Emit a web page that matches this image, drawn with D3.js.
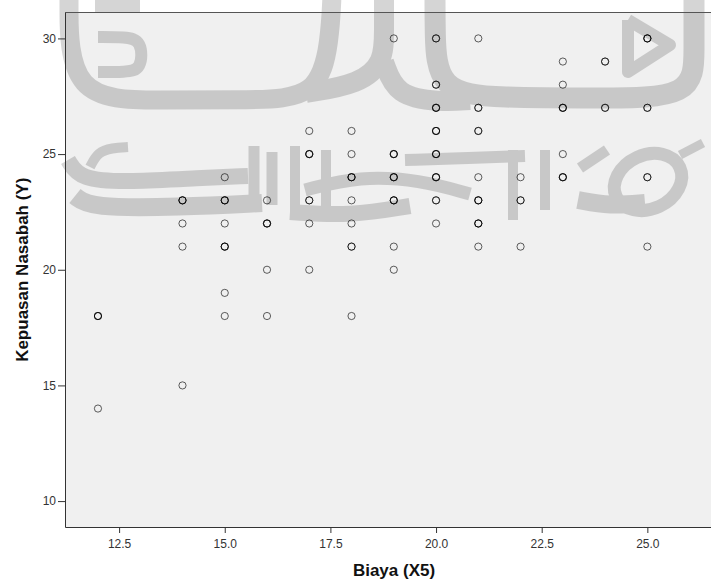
<!DOCTYPE html>
<html>
<head>
<meta charset="utf-8">
<script src="https://cdn.jsdelivr.net/npm/d3@7"></script>
<style>
  html, body { margin: 0; padding: 0; background: #fff; }
  #chart { width: 711px; height: 583px; overflow: hidden; }
  text { font-family: "Liberation Sans", Arial, sans-serif; }
</style>
</head>
<body>
<div id="chart"></div>
<script>
// Scatter Biaya (X5) vs Kepuasan Nasabah (Y)
// jumlah = how many cases sit on the same spot (darker rings in the original)
const biaya = [
    12, 12,
    14, 14, 14, 14,
    15, 15, 15, 15, 15, 15,
    16, 16, 16, 16,
    17, 17, 17, 17, 17,
    18, 18, 18, 18, 18, 18, 18,
    19, 19, 19, 19, 19, 19,
    20, 20, 20, 20, 20, 20, 20, 20,
    21, 21, 21, 21, 21, 21, 21,
    22, 22, 22,
    23, 23, 23, 23, 23,
    24, 24,
    25, 25, 25, 25
];
const kepuasan = [
    18, 14,
    23, 22, 21, 15,
    24, 23, 22, 21, 19, 18,
    23, 22, 20, 18,
    26, 25, 23, 22, 20,
    26, 25, 24, 23, 22, 21, 18,
    30, 25, 24, 23, 21, 20,
    30, 28, 27, 26, 25, 24, 23, 22,
    30, 27, 26, 24, 23, 22, 21,
    24, 23, 21,
    29, 28, 27, 25, 24,
    29, 27,
    30, 27, 24, 21
];
const jumlah = [
    3, 1,
    3, 1, 1, 1,
    1, 3, 1, 3, 1, 1,
    1, 3, 1, 1,
    1, 3, 2, 1, 1,
    1, 1, 3, 1, 1, 2, 1,
    1, 3, 3, 3, 1, 1,
    2, 2, 3, 3, 3, 3, 2, 1,
    1, 2, 2, 1, 3, 3, 1,
    1, 2, 1,
    1, 1, 3, 1, 3,
    2, 2,
    3, 2, 2, 1
];
const xTicks = [12.5, 15.0, 17.5, 20.0, 22.5, 25.0];
const yTicks = [10, 15, 20, 25, 30];
const xTitle = 'Biaya (X5)';
const yTitle = 'Kepuasan Nasabah (Y)';

// faint logo watermark behind the plot (page pixels, smoothed with curveBasis)
const watermark = [
    { w: 19, pts: [[69, -5], [69, 100], [160, 100], [250, 100], [318, 98], [330, 40], [332, -5]] },
    { w: 13, pts: [[95, 6], [140, 6]] },
    { w: 12, pts: [[98, 37], [125, 37], [142, 40], [142, 70], [125, 72], [98, 72]] },
    { w: 20, pts: [[384, -5], [384, 30], [384, 62], [360, 84], [306, 93]] },
    { w: 20, pts: [[384, 62], [396, 96], [440, 102], [470, 100]] },
    { w: 21, pts: [[435, -5], [435, 30], [437, 92], [500, 98], [600, 98], [694, 98], [694, 50], [694, -5]] },
    { w: 12, pts: [[628, 20], [670, 45], [628, 72], [628, 20]], straight: true },
    { w: 10, pts: [[90, 167], [98, 152], [112, 148], [128, 147]] },
    { w: 16, pts: [[68, 160], [80, 180], [130, 182], [200, 178], [248, 176]] },
    { w: 18, pts: [[75, 196], [90, 208], [180, 207], [262, 203]] },
    { w: 11, pts: [[254, 146], [254, 205]], straight: true },
    { w: 11, pts: [[272, 152], [272, 205]], straight: true },
    { w: 10, pts: [[295, 146], [295, 212]], straight: true },
    { w: 10, pts: [[326, 150], [326, 212]], straight: true },
    { w: 16, pts: [[290, 212], [350, 216], [410, 206]] },
    { w: 13, pts: [[305, 190], [360, 176], [420, 180], [470, 194]] },
    { w: 12, pts: [[405, 160], [470, 158], [525, 156]] },
    { w: 10, pts: [[513, 150], [513, 220]], straight: true },
    { w: 10, pts: [[545, 150], [545, 210]], straight: true },
    { w: 11, pts: [[580, 168], [607, 150]], straight: true },
    { w: 18, pts: [[578, 200], [610, 206], [645, 203]] },
    { w: 9, pts: [[680, 155], [703, 143]], straight: true }
];

const W = 711, H = 583;
const plot = { left: 65, right: 723, top: 12.5, bottom: 527 };

const x = d3.scaleLinear().domain([11.22, 26.79]).range([plot.left, plot.right]);
const y = d3.scaleLinear().domain([8.88, 31.12]).range([plot.bottom, plot.top]);

const svg = d3.select('#chart')
    .append('svg')
    .attr('width', W)
    .attr('height', H);

svg.append('rect')
    .attr('x', plot.left).attr('y', plot.top)
    .attr('width', plot.right - plot.left).attr('height', plot.bottom - plot.top)
    .attr('fill', '#f0f0f0');

// watermark
const wm = svg.append('g').attr('opacity', 0.16);
const straightLine = d3.line();
const smoothLine = d3.line().curve(d3.curveBasis);
watermark.forEach(s => {
    wm.append('path')
        .attr('d', (s.straight ? straightLine : smoothLine)(s.pts))
        .attr('fill', 'none')
        .attr('stroke', '#000')
        .attr('stroke-width', s.w)
        .attr('stroke-linejoin', 'round');
});
wm.append('ellipse')
    .attr('cx', 648).attr('cy', 182).attr('rx', 35).attr('ry', 27)
    .attr('transform', 'rotate(-25,648,182)')
    .attr('fill', 'none').attr('stroke', '#000').attr('stroke-width', 13);

// points, stacked rings for overlapping cases
const pts = [];
biaya.forEach((b, i) => {
    for (let k = 0; k < jumlah[i]; k++) pts.push([b, kepuasan[i]]);
});
svg.append('g')
    .selectAll('circle')
    .data(pts)
    .join('circle')
    .attr('cx', d => x(d[0]))
    .attr('cy', d => y(d[1]))
    .attr('r', 3.6)
    .attr('fill', 'none')
    .attr('stroke', '#000')
    .attr('stroke-opacity', 0.62)
    .attr('stroke-width', 1);

// frame top line
svg.append('line')
    .attr('x1', plot.left).attr('x2', plot.right)
    .attr('y1', plot.top).attr('y2', plot.top)
    .attr('stroke', '#555').attr('stroke-width', 1);

const yAxis = svg.append('g')
    .attr('transform', `translate(${plot.left},0)`)
    .call(d3.axisLeft(y).tickValues(yTicks).tickSize(7).tickSizeOuter(0).tickPadding(2));
const xAxis = svg.append('g')
    .attr('transform', `translate(0,${plot.bottom})`)
    .call(d3.axisBottom(x).tickValues(xTicks).tickFormat(d3.format('.1f')).tickSize(6).tickSizeOuter(0).tickPadding(6));

[yAxis, xAxis].forEach(a => {
    a.select('.domain').attr('stroke', '#333');
    a.selectAll('.tick line').attr('stroke', '#333');
    a.selectAll('.tick text')
        .style('font-family', '"Liberation Sans", Arial, sans-serif')
        .style('font-size', '12px')
        .attr('fill', '#333');
});

svg.append('text')
    .attr('x', (plot.left + plot.right) / 2)
    .attr('y', 576)
    .attr('text-anchor', 'middle')
    .style('font-size', '17px')
    .style('font-weight', 'bold')
    .attr('fill', '#111')
    .text(xTitle);

svg.append('text')
    .attr('transform', `translate(28,${(plot.top + plot.bottom) / 2}) rotate(-90)`)
    .attr('text-anchor', 'middle')
    .style('font-size', '17px')
    .style('font-weight', 'bold')
    .attr('fill', '#111')
    .text(yTitle);
</script>
</body>
</html>
